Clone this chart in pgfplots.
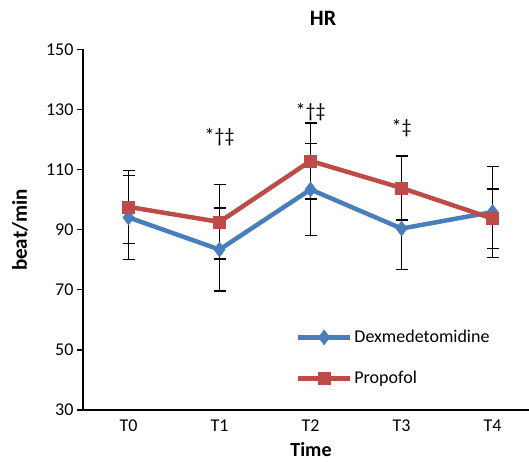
\documentclass[border=0pt]{standalone}
\usepackage{fontspec}
\setmainfont{Carlito}
\usepackage{pgfplots}
\pgfplotsset{compat=1.18}
\definecolor{dexblue}{HTML}{4A7EBB}
\definecolor{propred}{HTML}{BE4B48}
\begin{document}
\begin{tikzpicture}
\begin{axis}[
  at={(83bp,52bp)}, anchor=south west,
  scale only axis, width=446bp, height=360.5bp,
  xmin=-0.5, xmax=4.4, ymin=30, ymax=150,
  axis x line=bottom, axis y line=left,
  axis line style={-, line width=1.3bp, black},
  xtick={0,1,2,3,4}, xticklabels={T0,T1,T2,T3,T4},
  xtick style={draw=none},
  ytick={30,50,...,150},
  ytick style={line width=1.2bp, black},
  major tick length=6bp, tick align=outside,
  tick label style={font=\fontsize{18bp}{21bp}\selectfont, black},
  /pgf/number format/assume math mode=true,
  clip=false,
  legend style={at={(axis description cs:0.477,0.227)}, anchor=north west, draw=none, fill=none,
    font=\fontsize{18bp}{21bp}\selectfont, row sep=23bp, inner sep=0pt},
  legend cell align=left,
  legend image code/.code={\draw[mark repeat=2,mark phase=2,#1] plot coordinates {(0bp,0bp) (26bp,0bp) (52bp,0bp)};},
]
\addplot+[color=dexblue, line width=4.5bp, mark=diamond*, mark size=7.5bp, mark options={solid, fill=dexblue, line width=0.5bp},
  error bars/.cd, y dir=both, y explicit,
  error bar style={line width=1.5bp, black},
  error mark options={rotate=90, mark size=6bp, line width=1.5bp, black}]
  coordinates {
  (0,94.1) +- (0,14.0)
  (1,83.4) +- (0,13.8)
  (2,103.4) +- (0,15.3)
  (3,90.4) +- (0,13.6)
  (4,95.9) +- (0,15.2)
  };
\addlegendentry{Dexmedetomidine}
\addplot+[color=propred, line width=4.5bp, mark=square*, mark size=6bp, mark options={solid, fill=propred, line width=0.5bp},
  error bars/.cd, y dir=both, y explicit,
  error bar style={line width=1.5bp, black},
  error mark options={rotate=90, mark size=6bp, line width=1.5bp, black}]
  coordinates {
  (0,97.6) +- (0,12.2)
  (1,92.6) +- (0,12.4)
  (2,112.9) +- (0,12.6)
  (3,103.9) +- (0,10.7)
  (4,93.7) +- (0,9.9)
  };
\addlegendentry{Propofol}
\node[font=\fontsize{20bp}{23bp}\selectfont] at (axis cs:1,120.8) {*†‡};
\node[font=\fontsize{20bp}{23bp}\selectfont] at (axis cs:2,129) {*†‡};
\node[font=\fontsize{20bp}{23bp}\selectfont] at (axis cs:3,123.7) {*‡};
\end{axis}
\node[font=\fontsize{22bp}{26bp}\selectfont\bfseries] at (323bp,444bp) {HR};
\node[font=\fontsize{21bp}{25bp}\selectfont\bfseries, rotate=90] at (20bp,232bp) {beat/min};
\node[font=\fontsize{20bp}{24bp}\selectfont\bfseries] at (311bp,12bp) {Time};
\pgfresetboundingbox
\path[use as bounding box] (0,0) rectangle (529bp,462bp);
\end{tikzpicture}
\end{document}
